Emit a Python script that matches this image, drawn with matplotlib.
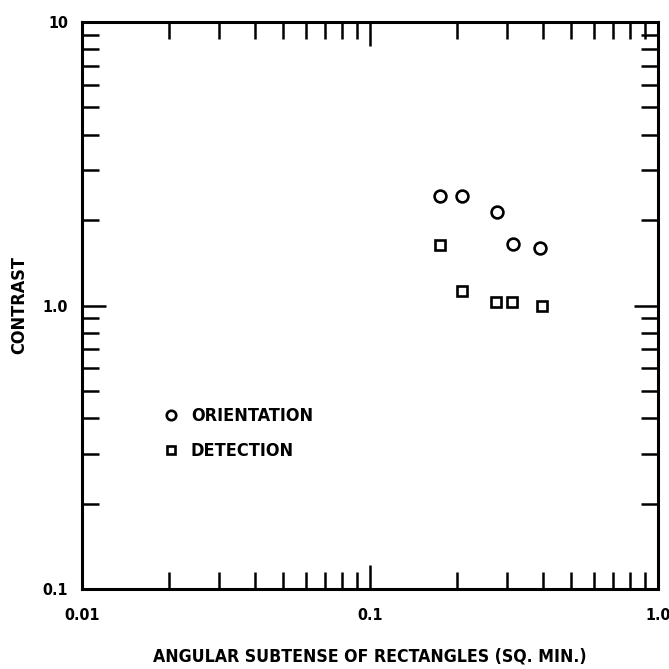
import matplotlib
matplotlib.use("Agg")
import matplotlib.pyplot as plt
from matplotlib.ticker import LogLocator, FixedLocator, FixedFormatter, NullFormatter

# data
orient_x = [0.175, 0.208, 0.276, 0.314, 0.389]
orient_y = [2.44, 2.44, 2.14, 1.65, 1.60]
detect_x = [0.175, 0.209, 0.273, 0.311, 0.396]
detect_y = [1.64, 1.125, 1.03, 1.03, 1.00]

xticks = [0.01, 0.1, 1.0]
xtick_labels = ["0.01", "0.1", "1.0"]
yticks = [0.1, 1.0, 10]
ytick_labels = ["0.1", "1.0", "10"]

plt.rcParams['font.family'] = ['DejaVu Sans']
plt.rcParams['font.weight'] = 'bold'
plt.rcParams['font.stretch'] = 'condensed'

fig = plt.figure(figsize=(6.69, 6.69), dpi=100)
ax = fig.add_axes([82/669, 1 - 589/669, 576/669, 567/669])

ax.plot(orient_x, orient_y, linestyle='none', marker='o', ms=8.5,
        mfc='white', mec='black', mew=1.9, label='ORIENTATION')
ax.plot(detect_x, detect_y, linestyle='none', marker='s', ms=7.5,
        mfc='white', mec='black', mew=1.9, label='DETECTION')

ax.set_xscale('log')
ax.set_yscale('log')
ax.set_xlim(0.01, 1.0)
ax.set_ylim(0.1, 10)

ax.xaxis.set_major_locator(FixedLocator(xticks))
ax.xaxis.set_major_formatter(FixedFormatter(xtick_labels))
ax.yaxis.set_major_locator(FixedLocator(yticks))
ax.yaxis.set_major_formatter(FixedFormatter(ytick_labels))
ax.xaxis.set_minor_locator(LogLocator(base=10, subs=range(2, 10)))
ax.yaxis.set_minor_locator(LogLocator(base=10, subs=range(2, 10)))
ax.xaxis.set_minor_formatter(NullFormatter())
ax.yaxis.set_minor_formatter(NullFormatter())

for s in ax.spines.values():
    s.set_linewidth(2.2)

ax.tick_params(which='both', direction='in', top=True, right=True,
               width=1.8, colors='black')
ax.tick_params(which='major', length=17)
ax.tick_params(which='minor', length=12)
ax.tick_params(axis='x', which='major', pad=14, labelsize=11.5)
ax.tick_params(axis='y', which='major', pad=10, labelsize=11.5)

ax.set_xlabel("ANGULAR SUBTENSE OF RECTANGLES (SQ. MIN.)", fontsize=12.7,
              fontweight='bold', labelpad=17)
ax.set_ylabel("CONTRAST", fontsize=13, fontweight='bold', labelpad=10)

leg = ax.legend(loc='center left', bbox_to_anchor=(0.139, 0.274), frameon=False,
                fontsize=13, borderpad=0, borderaxespad=0, handletextpad=0.6,
                labelspacing=0.95, handlelength=1.0, markerscale=0.8)

fig.savefig("out.png", dpi=100, facecolor='white')
